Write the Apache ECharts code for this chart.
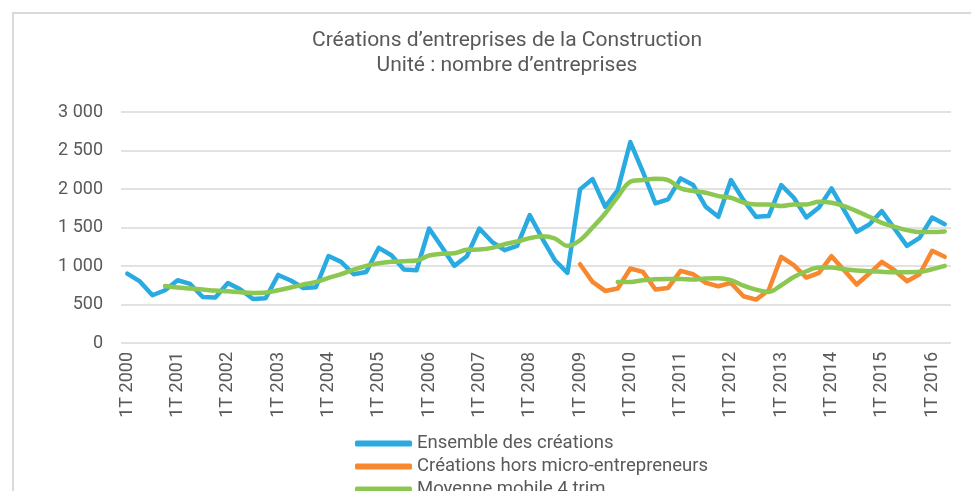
<!DOCTYPE html>
<html>
<head>
<meta charset="utf-8">
<script src="https://cdn.jsdelivr.net/npm/echarts@6/dist/echarts.min.js"></script>
<style>
html,body{margin:0;padding:0;background:#fff;}
#c{width:971px;height:491px;}
</style>
</head>
<body>
<div id="c"></div>
<script>
// Quarterly categories 1T 2000 .. 2T 2016
var years = [2000,2001,2002,2003,2004,2005,2006,2007,2008,2009,2010,2011,2012,2013,2014,2015,2016];
var categories = [];
years.forEach(function(y){ for (var q=1;q<=4;q++){ if (y===2016 && q>2) break; categories.push(q+'T '+y); } });

var yTicks = [0, 500, 1000, 1500, 2000, 2500, 3000];

var ensemble = [900,800,620,685,815,767,598,590,780,694,572,581,884,811,715,724,
  1130,1054,893,923,1236,1140,954,945,1487,1249,1002,1127,1487,1314,1205,1262,
  1661,1357,1075,911,1995,2129,1769,1986,2610,2224,1812,1864,2138,2051,1769,1639,
  2116,1856,1639,1648,2051,1886,1630,1760,2008,1726,1444,1539,1713,1487,1262,1366,
  1630,1543];

var horsMicro = [null,null,null,null,null,null,null,null,null,null,null,null,null,null,null,null,
  null,null,null,null,null,null,null,null,null,null,null,null,null,null,null,null,
  null,null,null,null,1023,793,676,707,967,924,694,715,937,893,780,737,
  780,607,564,685,1119,1010,850,911,1127,945,759,902,1054,945,802,893,
  1197,1119];

var moyEnsemble = [null,null,null,741,720,707,694,681,672,659,650,655,685,720,759,793,
  845,893,954,1002,1036,1054,1062,1071,1136,1158,1166,1210,1214,1236,1283,1318,
  1362,1387,1357,1262,1335,1500,1682,1899,2094,2116,2133,2116,2008,1973,1951,1908,
  1886,1825,1799,1799,1778,1799,1799,1834,1821,1778,1713,1639,1561,1509,1466,1440,
  1440,1448];

var moyHorsMicro = [null,null,null,null,null,null,null,null,null,null,null,null,null,null,null,null,
  null,null,null,null,null,null,null,null,null,null,null,null,null,null,null,null,
  null,null,null,null,null,null,null,793,793,815,828,832,832,824,837,841,
  815,746,694,663,750,858,932,980,980,958,941,932,924,919,919,924,
  958,1002];

var names = ['Ensemble des créations','Créations hors micro-entrepreneurs','Moyenne mobile 4 trim.'];

var chart = echarts.init(document.getElementById('c'));
var font = 'Roboto, "Noto Sans", sans-serif';
function fmt(v){ return String(v).replace(/\B(?=(\d{3})+(?!\d))/g, ' '); }
function lineSeries(name, data, color, smooth, width){
  return {
    name: name, type: 'line', data: data, symbol: 'none', smooth: smooth,
    connectNulls: false,
    lineStyle: {color: color, width: width, cap: 'round', join: 'round'},
    itemStyle: {color: color},
    emphasis: {disabled: true},
    animation: false
  };
}
chart.setOption({
  animation: false,
  backgroundColor: '#fff',
  graphic: [{
    type: 'rect', shape: {x: 13, y: 13, width: 1000, height: 500},
    style: {fill: 'none', stroke: '#d9d9d9', lineWidth: 2}, silent: true
  }],
  title: {
    text: 'Créations d\u2019entreprises de la Construction\nUnité : nombre d\u2019entreprises',
    left: 502, top: 23, textAlign: 'center',
    textStyle: {fontFamily: font, fontSize: 21, fontWeight: 'normal', color: '#595959', lineHeight: 25}
  },
  legend: {
    data: names.map(function(n){ return {name: n, icon: 'roundRect'}; }),
    orient: 'vertical', left: 355, top: 434, height: 200, padding: 0,
    itemWidth: 57, itemHeight: 6, itemGap: 4,
    textStyle: {fontFamily: font, fontSize: 18.5, color: '#595959', lineHeight: 18},
    selectedMode: false
  },
  grid: {left: 121, right: 20, top: 112, bottom: 148, containLabel: false},
  xAxis: {
    type: 'category', data: categories, boundaryGap: true,
    axisLine: {show: false}, axisTick: {show: false},
    axisLabel: {interval: 3, rotate: 90, margin: 9, fontFamily: font, fontSize: 18, color: '#595959'}
  },
  yAxis: {
    type: 'value', min: yTicks[0], max: yTicks[yTicks.length-1], interval: 500,
    axisLine: {show: false}, axisTick: {show: false},
    splitLine: {lineStyle: {color: '#d9d9d9', width: 1.5}},
    axisLabel: {margin: 18, fontFamily: font, fontSize: 18, color: '#595959', formatter: fmt}
  },
  series: [
    lineSeries(names[0], ensemble, '#29abe2', false, 4.5),
    lineSeries(names[1], horsMicro, '#f7882f', false, 4.5),
    lineSeries(names[2], moyEnsemble, '#8cc751', 0.35, 4.5),
    lineSeries('Moyenne mobile 4 trim. (hors micro)', moyHorsMicro, '#8cc751', 0.35, 4.5)
  ]
});
</script>
</body>
</html>
